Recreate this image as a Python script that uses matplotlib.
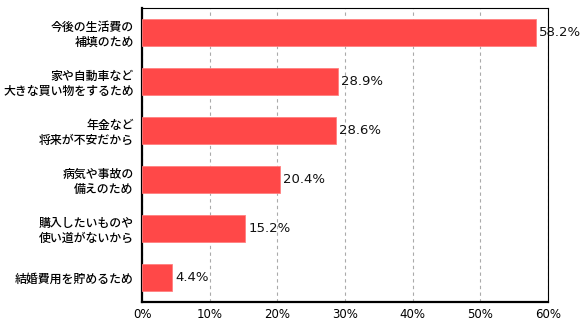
import matplotlib
matplotlib.use("Agg")
import matplotlib.pyplot as plt

plt.rcParams['font.family'] = ['Noto Sans CJK JP', 'DejaVu Sans']

categories = ["今後の生活費の\n補填のため",
              "家や自動車など\n大きな買い物をするため",
              "年金など\n将来が不安だから",
              "病気や事故の\n備えのため",
              "購入したいものや\n使い道がないから",
              "結婚費用を貯めるため"]
values = [58.2, 28.9, 28.6, 20.4, 15.2, 4.4]
xticks = [0, 10, 20, 30, 40, 50, 60]

fig = plt.figure(figsize=(5.86, 3.22), dpi=100)
ax = fig.add_axes([142/586, 1 - 302/322, (548 - 142)/586, (302 - 8)/322])

ypos = list(range(len(categories)))
ax.barh(ypos, values, height=0.54, color='#FF4848', edgecolor='#FF8080', linewidth=0.6, zorder=3)
for y, v in zip(ypos, values):
    ax.text(v + 0.5, y, f"{v}%", va='center', ha='left', fontsize=9.5,
            family=['DejaVu Sans'], color='#111111', zorder=4)

ax.set_xlim(0, 60)
ax.set_ylim(len(categories) - 0.5, -0.5)
ax.set_xticks(xticks)
ax.set_xticklabels([f"{t}%" for t in xticks], fontsize=8.5, family=['DejaVu Sans'])
ax.set_yticks(ypos)
ax.set_yticklabels(categories, fontsize=8.6, linespacing=1.2, weight='medium')
ax.tick_params(length=0, pad=6)
ax.tick_params(axis='x', pad=4)
ax.grid(axis='x', linestyle=(0, (3, 3)), color='#AAAAAA', linewidth=0.8, zorder=0)

for s in ['top', 'right']:
    ax.spines[s].set_linewidth(0.8)
for s in ['left', 'bottom']:
    ax.spines[s].set_linewidth(1.6)

fig.savefig("out.png", dpi=100)
